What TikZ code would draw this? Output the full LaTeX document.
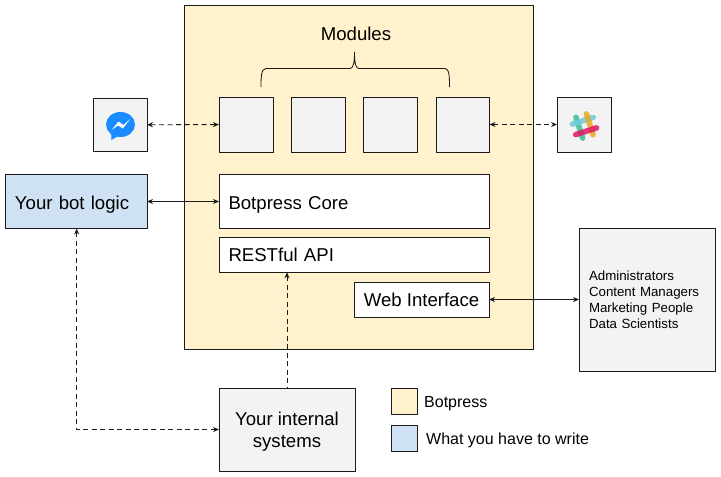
\documentclass[tikz,border=0pt]{standalone}
\usepackage{fontspec}
\setmainfont{Liberation Sans}
\usetikzlibrary{arrows.meta}
\definecolor{botyellow}{HTML}{FFF2CC}
\definecolor{botblue}{HTML}{CFE2F3}
\definecolor{botgray}{HTML}{F3F3F3}
\definecolor{botline}{HTML}{1A1A1A}
\definecolor{msgblue}{HTML}{1A8CFF}
\definecolor{slkteal}{HTML}{3EB991}
\definecolor{slkcyan}{HTML}{70CADB}
\definecolor{slkorange}{HTML}{E9A820}
\definecolor{slkred}{HTML}{E01563}
\tikzset{
	box/.style={draw=botline, line width=1pt, fill=botgray, minimum width=#1, inner sep=0pt, outer sep=0pt},
	txtlbl/.style={font=\fontsize{18.6}{22}\selectfont, align=center},
	lowtxt/.style={txtlbl, text height=17pt, text depth=2pt, align=left},
	legtxt/.style={font=\fontsize{16}{18}\selectfont, anchor=west, inner sep=0pt},
	link/.style={line width=0.85pt, botline, {Stealth[length=6pt,width=5pt]}-{Stealth[length=6pt,width=5pt]}},
	dashlink/.style={link, dash pattern=on 5pt off 3.5pt},
}
\begin{document}
\begin{tikzpicture}[x=1pt, y=-1pt, line join=round]
	\useasboundingbox (0,0) rectangle (721,477);
	% Botpress frame
	\node[box=349pt, minimum height=344pt, fill=botyellow] (botpress) at (358.5,177) {};
	\node[txtlbl] (modules) at (356,34) {Modules};
	% modules row
	\foreach \nm/\cx in {modA/246,modB/318,modC/390}
		\node[box=54pt, minimum height=55pt] (\nm) at (\cx,124.5) {};
	\node[box=53.5pt, minimum height=55pt] (modD) at (462.8,124.5) {};
	\node[box=54pt, minimum height=53.5pt] (messenger) at (120,124.8) {};
	\node[box=54pt, minimum height=55pt] (slack) at (584,124.5) {};
	% main blocks
	\node[box=142pt, minimum height=54pt, fill=botblue, text width=122pt, lowtxt] (botlogic) at (76,201.5) {Your bot logic};
	\node[box=270pt, minimum height=54pt, fill=white, text width=251pt, lowtxt] (core) at (354,201.5) {Botpress Core};
	\node[box=270pt, minimum height=35pt, fill=white, text width=251pt, lowtxt, text height=16pt, text depth=2pt] (rest) at (354,254.8) {RESTful API};
	\node[box=135pt, minimum height=35pt, fill=white, txtlbl] (web) at (421.5,299.5) {Web Interface};
	\node[box=136pt, minimum height=143pt, text width=116pt, font=\fontsize{13.3}{16}\selectfont, align=left] (people) at (647,300) {Administrators\\Content Managers\\Marketing People\\Data Scientists};
	\node[box=136pt, minimum height=83pt, txtlbl] (internal) at (287,429.5) {\rule{0pt}{17pt}Your internal\\systems};
	% legend
	\node[box=26pt, minimum height=26pt, fill=botyellow] (legyellow) at (404,401) {};
	\node[box=26pt, minimum height=26pt, fill=botblue] (legblue) at (404,438) {};
	\node[legtxt] (legbot) at (424,403.5) {Botpress};
	\node[legtxt] (legwrite) at (426,440.5) {What you have to write};
	% brace
	\coordinate (braceL) at (261,87);
	\coordinate (braceR) at (449.5,87);
	\coordinate (braceT) at (354.5,52);
	\draw[line width=0.85pt, botline] (braceL) .. controls (261,78) and (261,68.5) .. (266,68.5) -- (350,68.5)
		.. controls (353,68.5) and (354.5,64) .. (braceT) .. controls (354.5,64) and (356,68.5) .. (359,68.5) -- (445,68.5)
		.. controls (449.5,68.5) and (449.5,78) .. (braceR);
	% connectors
	\draw[dashlink] (messenger) -- (modA);
	\draw[dashlink] (modD) -- (slack);
	\draw[link] (botlogic) -- (core);
	\draw[link] (web) -- (web -| people.west);
	\coordinate (restin) at (rest.south -| internal.north);
	\draw[dashlink, {Stealth[length=6pt,width=5pt]}-] (restin) -- (internal.north);
	\coordinate (botout) at ([xshift=0.7pt]botlogic.south);
	\draw[dashlink] (botout) |- (internal.west);
	% messenger icon
	\fill[msgblue] (120.5,124.5) ellipse (14.5pt and 12.5pt);
	\fill[msgblue] (111,131) -- (111.5,140) -- (120,135) -- cycle;
	\fill[white] (111.5,130) -- (118.5,121.5) -- (123.5,125) -- (130,119) -- (123,128.5) -- (118,125.5) -- cycle;
	% slack icon
	\begin{scope}[shift={(584.5,126)}, rotate=18, line width=5.5pt, line cap=round, opacity=0.85]
		\draw[slkteal] (-5.5,-11) -- (-5.5,11);
		\draw[slkcyan] (-11,-5.5) -- (11,-5.5);
		\draw[slkorange] (5.5,-11) -- (5.5,11);
		\draw[slkred] (-11,5.5) -- (11,5.5);
	\end{scope}
\end{tikzpicture}
\end{document}
